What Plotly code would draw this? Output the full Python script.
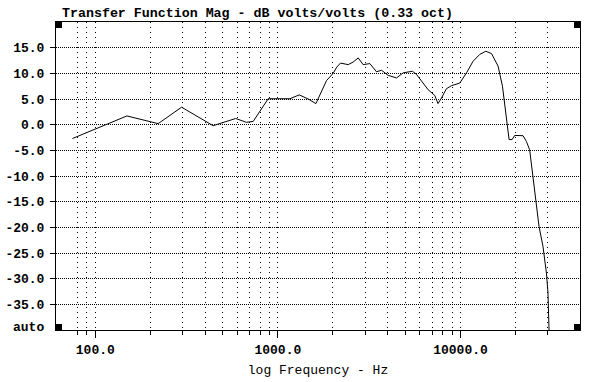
import plotly.graph_objects as go

# ---- data ----
freq_hz = [75, 149, 221, 297, 442, 587, 674, 733, 885, 1164, 1309, 1467, 1615,
           1848, 2009, 2100, 2203, 2426, 2583, 2754, 2930, 3190, 3470, 3695,
           4020, 4467, 4856, 5461, 5742, 6120, 6653, 7230, 7535, 7870, 8375,
           8930, 9910, 10790, 11720, 12760, 13770, 14790, 16070, 16980, 17860,
           18460, 19170, 19820, 22010, 22960, 23930, 24950, 25810, 26920,
           28300, 29560, 30160, 30420, 30550]
mag_db = [-2.7, 1.7, 0.2, 3.4, -0.2, 1.2, 0.45, 0.65, 5.05, 5.05, 5.8, 5.0, 4.1,
          8.6, 10.0, 11.2, 12.0, 11.7, 12.2, 13.0, 11.7, 11.9, 10.3, 10.6,
          9.6, 9.1, 10.1, 10.4, 9.8, 8.45, 6.8, 5.7, 4.1, 5.2, 7.0,
          7.6, 8.1, 10.1, 12.35, 13.7, 14.3, 13.85, 11.4, 7.5, 1.6,
          -2.9, -2.9, -2.1, -2.15, -3.26, -4.9, -10.1, -15.3, -19.8,
          -23.7, -28.9, -32.8, -36.1, -40.0]

x_major_vals = [100, 1000, 10000]
x_major_text = ["100.0", "1000.0", "10000.0"]
x_minor_vals = [80, 90, 200, 300, 400, 500, 600, 700, 800, 900,
                2000, 3000, 4000, 5000, 6000, 7000, 8000, 9000, 20000, 30000]
y_tick_vals = [15, 10, 5, 0, -5, -10, -15, -20, -25, -30, -35]
y_tick_text = ["15.0", "10.0", "5.0", "0.0", "-5.0", "-10.0", "-15.0",
               "-20.0", "-25.0", "-30.0", "-35.0"]

title_text = "Transfer Function Mag - dB volts/volts (0.33 oct)"
x_title = "log Frequency - Hz"

FONT = "Liberation Mono"
W, H = 596, 382
ML, MR, MT, MB = 56, 16, 22, 52
PW, PH = W - ML - MR, H - MT - MB

fig = go.Figure()
fig.add_trace(go.Scatter(x=freq_hz, y=mag_db, mode="lines",
                         line=dict(color="black", width=1), showlegend=False,
                         hoverinfo="skip"))

fig.update_layout(
    width=W, height=H,
    margin=dict(l=ML, r=MR, t=MT, b=MB, pad=0, autoexpand=False),
    paper_bgcolor="white", plot_bgcolor="white",
    font=dict(family=FONT, color="black", size=13),
    hovermode=False,
    title=dict(text="<b>" + title_text + "</b>", x=62 / W, xref="container",
               xanchor="left", y=1 - 12.5 / H, yref="container", yanchor="middle",
               automargin=False,
               font=dict(family=FONT, size=13.3, color="black")),
)

fig.update_xaxes(
    type="log", range=[1.7849, 4.6546], automargin=False,
    tickmode="array", tickvals=x_major_vals, ticktext=["<b>%s</b>" % t for t in x_major_text],
    ticks="outside", ticklen=7, tickwidth=1, tickcolor="black",
    tickfont=dict(family=FONT, size=13, color="black"),
    showgrid=True, gridcolor="black", gridwidth=1, griddash="1px,4px",
    minor=dict(tickmode="array", tickvals=x_minor_vals, ticks="outside",
               ticklen=4, tickwidth=1, tickcolor="black",
               showgrid=True, gridcolor="black", gridwidth=1, griddash="1px,4px"),
    showline=True, linecolor="black", linewidth=1, mirror=True,
    zeroline=False,
    title=dict(text=x_title, font=dict(family=FONT, size=13, color="black"),
               standoff=8),
)

fig.update_yaxes(
    range=[-40, 20], automargin=False,
    tickmode="array", tickvals=y_tick_vals, ticktext=["<b>%s</b>" % t for t in y_tick_text],
    ticks="outside", ticklen=5, tickwidth=1, tickcolor="black",
    tickfont=dict(family=FONT, size=13, color="black"),
    ticklabelstandoff=3,
    showgrid=True, gridcolor="black", gridwidth=1, griddash="1px,1px",
    showline=True, linecolor="black", linewidth=1, mirror=True,
    zeroline=False,
)

fig.add_annotation(text="<b>auto</b>", xref="paper", yref="y", x=0, y=-40,
                   xanchor="right", yanchor="middle", xshift=-10, yshift=3,
                   showarrow=False, font=dict(family=FONT, size=13, color="black"))

# black corner squares (6 px)
sx, sy = 6 / PW, 6 / PH
for (x0, y0) in [(0, 1 - sy), (0, 0), (1 - sx, 0), (1 - sx, 1 - sy)]:
    fig.add_shape(type="rect", xref="paper", yref="paper",
                  x0=x0, x1=x0 + sx, y0=y0, y1=y0 + sy,
                  fillcolor="black", line=dict(width=0), layer="above")

fig.write_html("out.html",
               config={"displayModeBar": False},
               post_script="document.body.style.margin='0';document.body.style.overflow='hidden';")
